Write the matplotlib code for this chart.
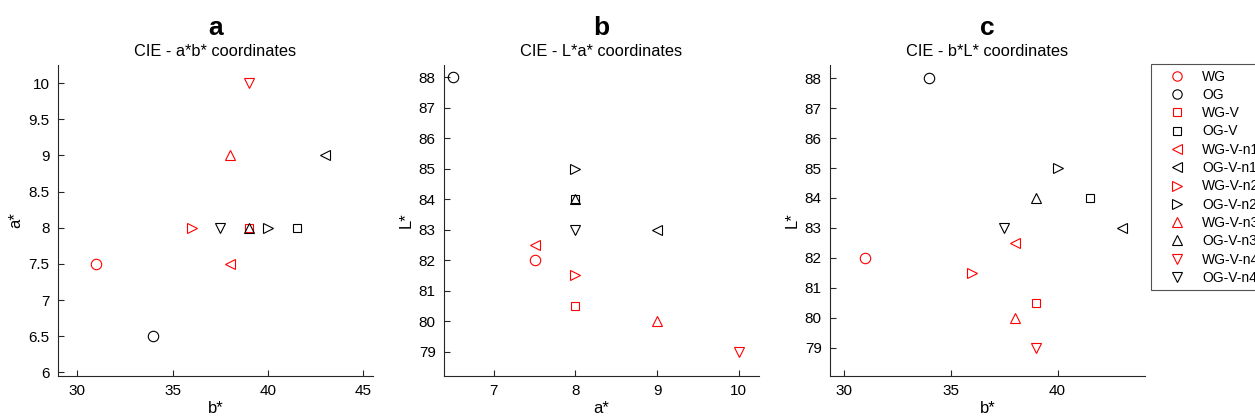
import matplotlib
matplotlib.use("Agg")
import matplotlib.pyplot as plt
from matplotlib.ticker import FuncFormatter

plt.rcParams['font.family'] = ['Liberation Sans', 'DejaVu Sans']

# sample groups, in legend order
groups = ["WG", "OG", "WG-V", "OG-V", "WG-V-n1", "OG-V-n1",
          "WG-V-n2", "OG-V-n2", "WG-V-n3", "OG-V-n3", "WG-V-n4", "OG-V-n4"]
L_star = [82, 88, 80.5, 84, 82.5, 83, 81.5, 85, 80, 84, 79, 83]
a_star = [7.5, 6.5, 8, 8, 7.5, 9, 8, 8, 9, 8, 10, 8]
b_star = [31, 34, 39, 41.5, 38, 43, 36, 40, 38, 39, 39, 37.5]

markers = ['o', 'o', 's', 's', '<', '<', '>', '>', '^', '^', 'v', 'v']
colors = ['red', 'black'] * 6

fig = plt.figure(figsize=(12.55, 4.19), dpi=100)

panels = [
    ("a", "CIE - a*b* coordinates", b_star, a_star, "b*", "a*",
     (29, 45.5), (5.95, 10.25), [30, 35, 40, 45], [6 + 0.5 * i for i in range(9)], 0.0462),
    ("b", "CIE - L*a* coordinates", a_star, L_star, "a*", "L*",
     (6.39, 10.25), (78.2, 88.4), [7, 8, 9, 10], list(range(79, 89)), 0.3538),
    ("c", "CIE - b*L* coordinates", b_star, L_star, "b*", "L*",
     (29.35, 44.1), (78.05, 88.44), [30, 35, 40], list(range(79, 89)), 0.6614),
]

axc = "#262626"
handles = []
for letter, sub, xs, ys, xl, yl, xlim, ylim, xt, yt, left in panels:
    ax = fig.add_axes([left, 0.1026, 0.251, 0.742])
    handles = []
    for i, g in enumerate(groups):
        h, = ax.plot(xs[i], ys[i], linestyle='none', marker=markers[i],
                     markersize=7.5 if markers[i] != 's' else 5.8,
                     markerfacecolor='none', markeredgecolor=colors[i],
                     markeredgewidth=0.8, label=g)
        handles.append(h)
    ax.set_xlim(*xlim)
    ax.set_ylim(*ylim)
    ax.set_xticks(xt)
    ax.set_yticks(yt)
    fmt = FuncFormatter(lambda v, _: f"{v:g}")
    ax.xaxis.set_major_formatter(fmt)
    ax.yaxis.set_major_formatter(fmt)
    for s in ['top', 'right']:
        ax.spines[s].set_visible(False)
    for s in ['left', 'bottom']:
        ax.spines[s].set_color(axc)
        ax.spines[s].set_linewidth(0.8)
    ax.tick_params(direction='in', length=4, width=0.8, colors=axc,
                   labelsize=11, labelcolor='black', pad=6)
    ax.set_xlabel(xl, fontsize=12, labelpad=2)
    ax.set_ylabel(yl, fontsize=12, labelpad=4)
    cx = left + 0.251 / 2
    fig.text(cx, 1 - 28 / 419, letter, ha='center', va='center',
             fontsize=19, fontweight='bold')
    fig.text(cx, 1 - 52 / 419, sub, ha='center', va='center', fontsize=11.8)

# legend runs past the right edge, as in the original figure
leg = fig.legend(handles=handles, loc='upper left',
                 bbox_to_anchor=(1151 / 1255, 1 - 64 / 419),
                 fontsize=10, frameon=True, fancybox=False, markerscale=0.9,
                 edgecolor=axc, labelspacing=0.31, handletextpad=0.3,
                 borderpad=0.4, handlelength=3.0, borderaxespad=0)
leg.get_frame().set_linewidth(0.8)

fig.savefig("out.png", dpi=100)
